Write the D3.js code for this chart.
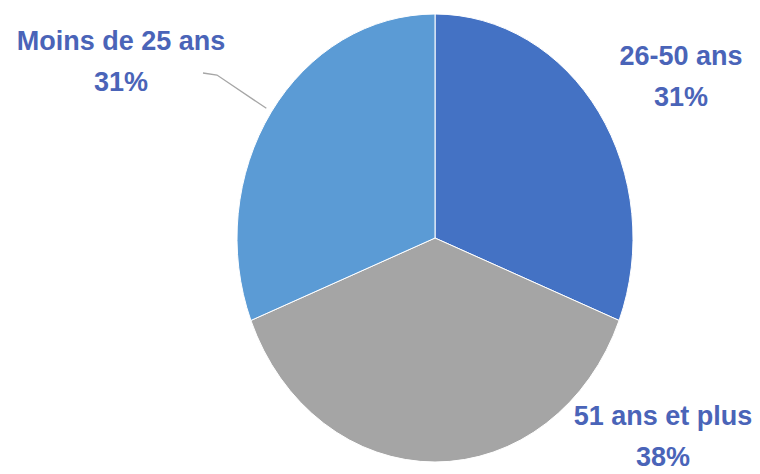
<!DOCTYPE html>
<html>
<head>
<meta charset="utf-8">
<script src="https://cdn.jsdelivr.net/npm/d3@7"></script>
<style>
  body { margin: 0; background: #fff; }
  svg { display: block; }
</style>
</head>
<body>
<script>
// data
const categories = ["26-50 ans", "51 ans et plus", "Moins de 25 ans"];
const shares = [31, 38, 31];
const colors = ["#4472C4", "#A5A5A5", "#5B9BD5"];

const width = 760, height = 474;
const cx = 435, cy = 238, rx = 198, ry = 224;

// label layout (centre x, first baseline y)
const labelPos = [
  { x: 681, y: 65 },
  { x: 663, y: 425 },
  { x: 121, y: 50 }
];

const svg = d3.select("body").append("svg")
    .attr("width", width)
    .attr("height", height);

const pie = d3.pie().sort(null).value(d => d);
const arcs = pie(shares);

const arc = d3.arc().innerRadius(0).outerRadius(rx);

svg.append("g")
    .attr("transform", "translate(" + cx + "," + cy + ") scale(1," + (ry / rx) + ")")
  .selectAll("path")
  .data(arcs)
  .enter().append("path")
    .attr("d", arc)
    .attr("fill", (d, i) => colors[i])
    .attr("stroke", "#fff")
    .attr("stroke-width", 1)
    .attr("vector-effect", "non-scaling-stroke");

// leader line for the left label, ending just outside the slice edge
const a = arcs[2];
const mid = (a.startAngle + a.endAngle) / 2;
const px = cx + rx * 1.03 * Math.sin(mid), py = cy - ry * 1.03 * Math.cos(mid);
svg.append("polyline")
    .attr("points", [[203, 73], [217, 75], [px, py]].map(p => p.join(",")).join(" "))
    .attr("fill", "none")
    .attr("stroke", "#a6a6a6")
    .attr("stroke-width", 1.3);

const labels = svg.selectAll("text.lbl")
    .data(categories)
    .enter().append("text")
    .attr("class", "lbl")
    .attr("text-anchor", "middle")
    .attr("font-family", "'Liberation Sans', Arial, sans-serif")
    .attr("font-weight", "bold")
    .attr("font-size", 27)
    .attr("fill", "#4a64b8");

labels.append("tspan")
    .attr("x", (d, i) => labelPos[i].x)
    .attr("y", (d, i) => labelPos[i].y)
    .text(d => d);

labels.append("tspan")
    .attr("x", (d, i) => labelPos[i].x)
    .attr("y", (d, i) => labelPos[i].y + 41)
    .text((d, i) => shares[i] + "%");
</script>
</body>
</html>
